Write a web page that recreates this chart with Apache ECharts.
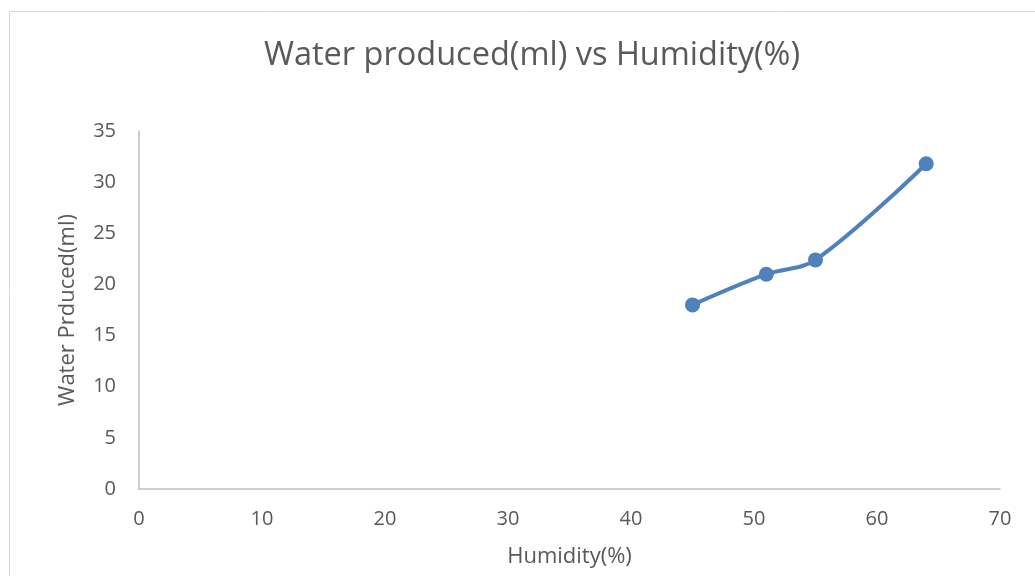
<!DOCTYPE html>
<html><head><meta charset="utf-8">
<script src="https://cdn.jsdelivr.net/npm/echarts@6/dist/echarts.min.js"></script>
<style>html,body{margin:0;padding:0;background:#fff}#c{width:1035px;height:576px}</style>
</head><body><div id="c"></div>
<script>
const humidity = [45, 51, 55, 64];
const water = [18, 21, 22.4, 31.8];
const xTicks = [0, 10, 20, 30, 40, 50, 60, 70];
const yTicks = [0, 5, 10, 15, 20, 25, 30, 35];

const chart = echarts.init(document.getElementById('c'));
const font = '"Open Sans", "Noto Sans", sans-serif';
chart.setOption({
  animation: false,
  backgroundColor: '#fff',
  graphic: [{type: 'rect', shape: {x: 9.5, y: 11.5, width: 1100, height: 700}, style: {fill: 'none', stroke: '#d9d9d9', lineWidth: 1}}],
  title: {text: 'Water produced(ml) vs Humidity(%)', left: 527, textAlign: 'center', top: 34,
    textStyle: {fontFamily: font, fontSize: 32.5, fontWeight: 'normal', color: '#595959'}},
  grid: {left: 139, right: 35, top: 131, bottom: 87, containLabel: false},
  xAxis: {type: 'value', min: xTicks[0], max: xTicks[xTicks.length-1], interval: 10,
    name: 'Humidity(%)', nameLocation: 'middle', nameGap: 57,
    nameTextStyle: {fontFamily: font, fontSize: 22, color: '#595959'},
    axisLine: {lineStyle: {color: '#bfbfbf', width: 1.5}}, axisTick: {show: false}, splitLine: {show: false},
    axisLabel: {fontFamily: font, fontSize: 20, color: '#595959', margin: 20}},
  yAxis: {type: 'value', min: yTicks[0], max: yTicks[yTicks.length-1], interval: 5,
    name: 'Water Prduced(ml)', nameLocation: 'middle', nameGap: 60, nameRotate: 90,
    nameTextStyle: {fontFamily: font, fontSize: 22, color: '#595959'},
    axisLine: {show: true, lineStyle: {color: '#bfbfbf', width: 1.5}}, axisTick: {show: false}, splitLine: {show: false},
    axisLabel: {fontFamily: font, fontSize: 20, color: '#595959', margin: 23}},
  series: [{type: 'line', data: humidity.map((h, i) => [h, water[i]]), smooth: 0.35,
    symbol: 'circle', symbolSize: 15, lineStyle: {color: '#4f81bd', width: 4},
    itemStyle: {color: '#4f81bd'}}]
});
</script></body></html>
